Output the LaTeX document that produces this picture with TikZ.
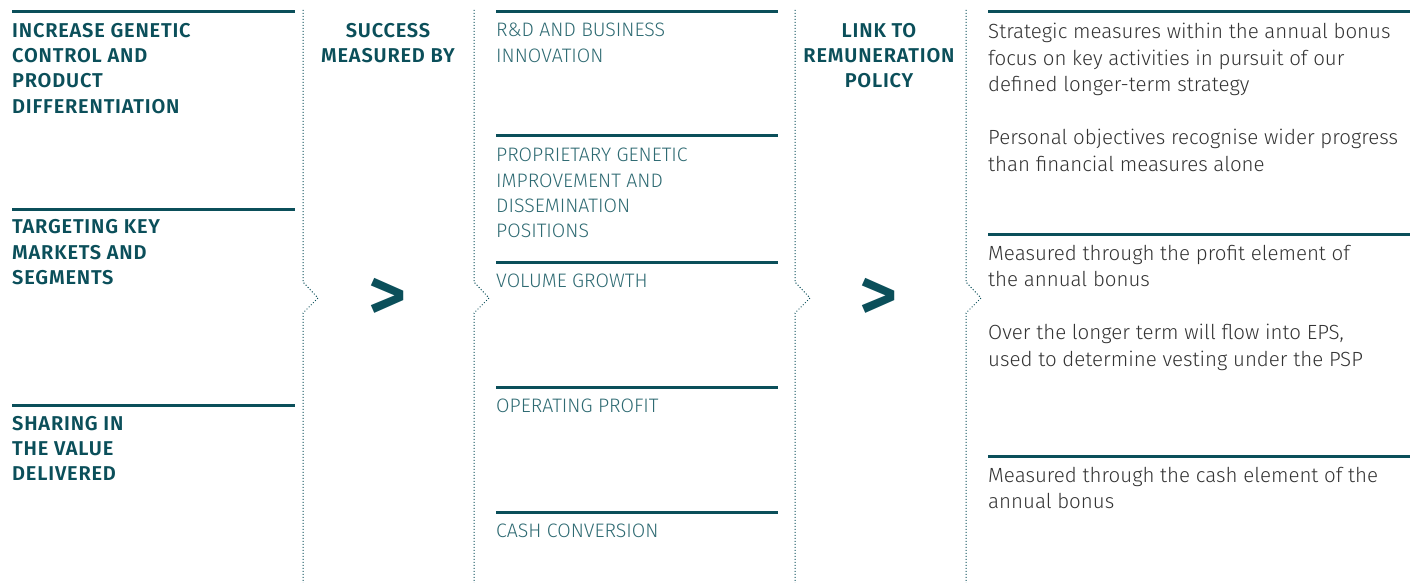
\documentclass[tikz,border=0pt]{standalone}
\usepackage{fontspec}
\setmainfont{Fira Sans}[UprightFont=* Light, BoldFont=* SemiBold, BoldFeatures={LetterSpace=4}]
\definecolor{tealdark}{HTML}{0B4F5A}
\definecolor{teallight}{HTML}{2E6A72}
\definecolor{bodygray}{HTML}{333333}

\begin{document}
\begin{tikzpicture}[x=1pt,y=-1pt,
    headlbl/.style={font=\bfseries\fontsize{20}{25.3}\selectfont, text=tealdark, anchor=north west, inner sep=0pt, align=left},
    midlbl/.style={font=\bfseries\fontsize{20}{25.3}\selectfont, text=tealdark, anchor=north, inner sep=0pt, align=center},
    measlbl/.style={font=\fontsize{19.5}{25.3}\selectfont, text=teallight, anchor=north west, inner sep=0pt, align=left},
    linklbl/.style={font=\fontsize{20.5}{26.5}\selectfont, text=bodygray, anchor=north west, inner sep=0pt, align=left},
    chevron/.style={font=\bfseries\fontsize{74}{74}\selectfont, text=tealdark, inner sep=0pt},
    toprule/.style={draw=tealdark, line width=3pt},
    divider/.style={draw=tealdark, line width=1pt, dotted}
  ]
  \useasboundingbox (0,0) rectangle (1427,583);

  % rules over each block
  \foreach \xa/\xb/\y in {12/295/12, 12/295/209, 12/295/405,
    496/778/12, 496/778/136, 496/778/262, 496/778/387, 496/778/512,
    988/1410/12, 988/1410/234, 988/1410/456}{
    \draw[toprule] (\xa,\y) -- (\xb,\y);
  }

  % dotted dividers with a notch
  \foreach \x in {303, 474, 795, 966}{
    \draw[divider] (\x,10) -- (\x,282) -- (\x+15,298) -- (\x,313) -- (\x,583);
  }

  % strategy
  \node[headlbl] (goal1) at (12,23) {INCREASE GENETIC\\CONTROL AND\\PRODUCT\\DIFFERENTIATION};
  \node[headlbl] (goal2) at (12,219.5) {TARGETING KEY\\MARKETS AND\\SEGMENTS};
  \node[headlbl] (goal3) at (12,416) {SHARING IN\\THE VALUE\\DELIVERED};

  \node[midlbl] (success) at (388,23) {SUCCESS\\MEASURED BY};
  \node[chevron] (arrow1) at (388,299) {>};

  % measures
  \node[measlbl] (kpi1) at (496,23) {R\&D AND BUSINESS\\INNOVATION};
  \node[measlbl] (kpi2) at (496,148) {PROPRIETARY GENETIC\\IMPROVEMENT AND\\DISSEMINATION\\POSITIONS};
  \node[measlbl] (kpi3) at (496,274) {VOLUME GROWTH};
  \node[measlbl] (kpi4) at (496,399) {OPERATING PROFIT};
  \node[measlbl] (kpi5) at (496,524) {CASH CONVERSION};

  \node[midlbl] (link) at (879,23) {LINK TO\\REMUNERATION\\POLICY};
  \node[chevron] (arrow2) at (879,299) {>};

  % remuneration
  \node[linklbl] (pay1) at (988,23) {Strategic measures within the annual bonus\\focus on key activities in pursuit of our\\defined longer-term strategy\\[26.5pt]Personal objectives recognise wider progress\\than financial measures alone};
  \node[linklbl] (pay2) at (988,245) {Measured through the profit element of\\the annual bonus\\[26.5pt]Over the longer term will flow into EPS,\\used to determine vesting under the PSP};
  \node[linklbl] (pay3) at (988,467) {Measured through the cash element of the\\annual bonus};
\end{tikzpicture}
\end{document}
